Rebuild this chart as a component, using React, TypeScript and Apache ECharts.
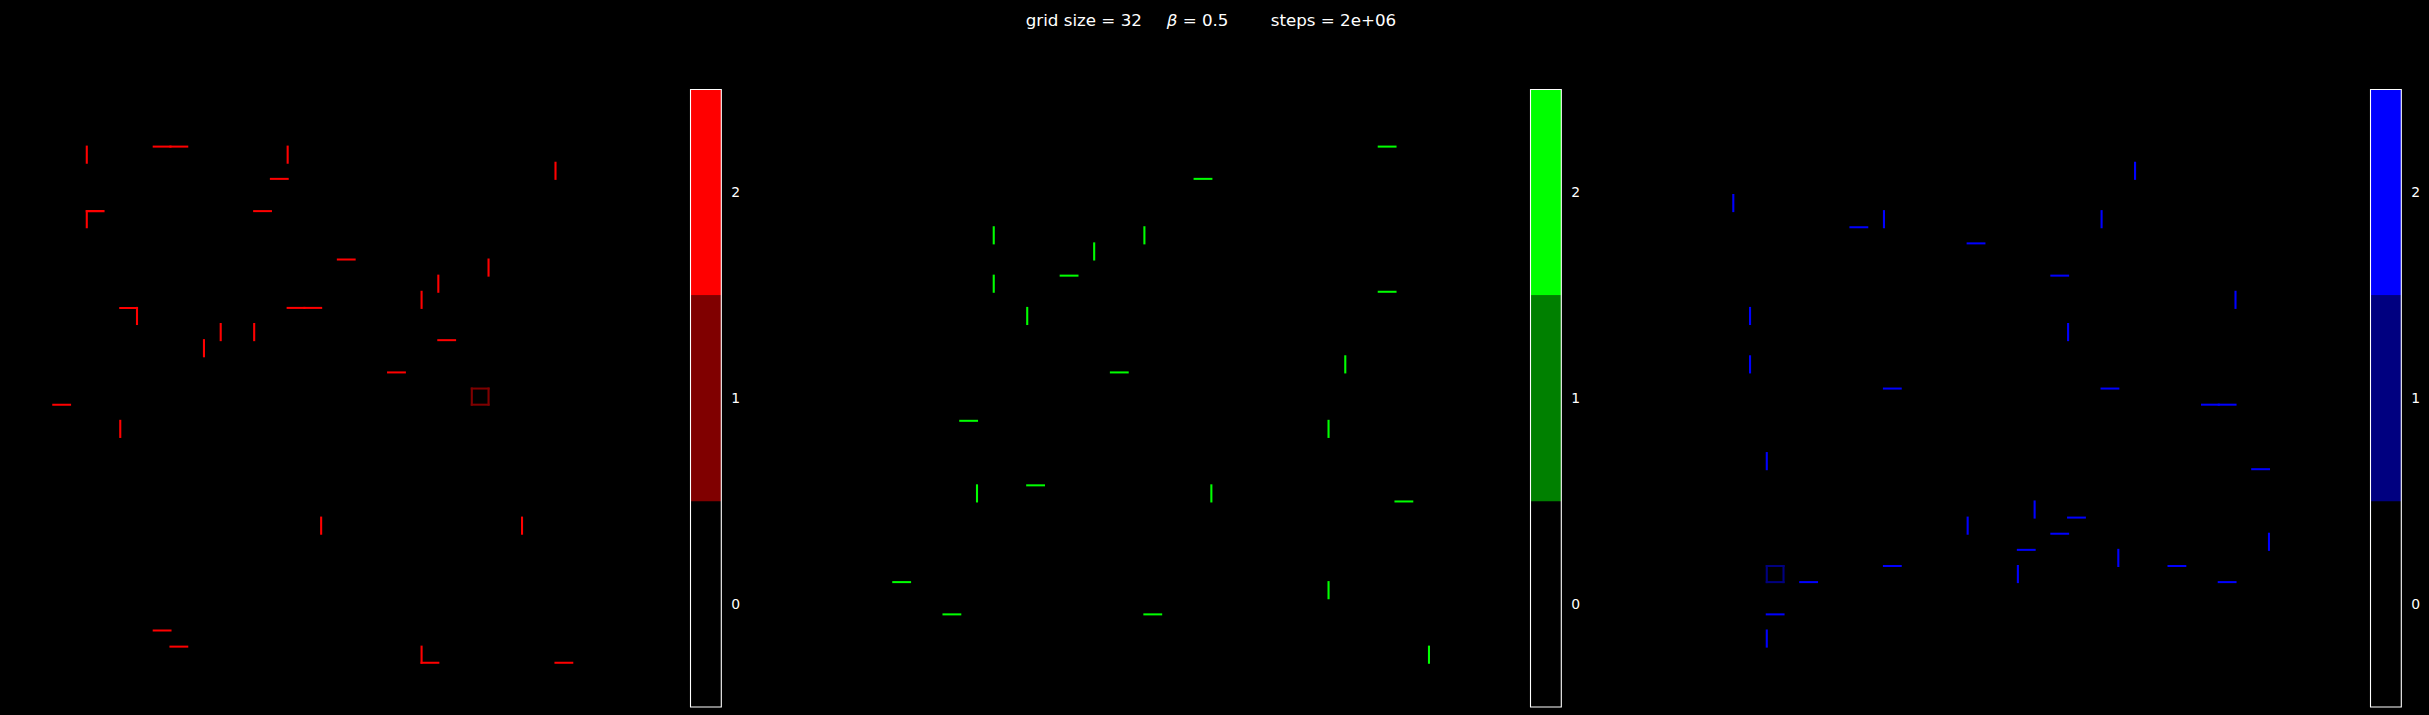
import React, { useEffect, useRef } from "react";
import * as echarts from "echarts";

// ---- data ----
const GRID_SIZE = 32;
const BETA = "0.5";
const STEPS = "2e+06";
const CB_TICKS = [0, 1, 2];

// edges: horizontal [col,row] -> (col,row)-(col+1,row); vertical [col,row] -> (col,row)-(col,row+1)
const redH = [[6, 0], [7, 0], [13, 2], [2, 4], [12, 4], [17, 7], [4, 10], [14, 10], [15, 10], [23, 12], [20, 14], [0, 16], [6, 30], [7, 31], [22, 32], [30, 32]];
const redV = [[2, 0], [14, 0], [30, 1], [2, 4], [26, 7], [23, 8], [22, 9], [5, 10], [10, 11], [12, 11], [9, 12], [4, 17], [16, 23], [28, 23], [22, 31]];
const redSq = [[25, 15]];

const greenH = [[29, 0], [18, 2], [10, 8], [29, 9], [13, 14], [4, 17], [8, 21], [30, 22], [0, 27], [3, 29], [15, 29]];
const greenV = [[6, 5], [15, 5], [12, 6], [6, 8], [8, 10], [27, 13], [26, 17], [5, 21], [19, 21], [26, 27], [32, 31]];
const greenSq: number[][] = [];

const blueH = [[7, 5], [14, 6], [19, 8], [9, 15], [22, 15], [28, 16], [29, 16], [31, 20], [20, 23], [19, 24], [17, 25], [9, 26], [26, 26], [4, 27], [29, 27], [2, 29]];
const blueV = [[24, 1], [0, 3], [9, 4], [22, 4], [30, 9], [1, 10], [20, 11], [1, 13], [2, 19], [18, 22], [14, 23], [32, 24], [23, 25], [17, 26], [2, 30]];
const blueSq = [[2, 26]];

const redColors = ["#000000", "#800000", "#ff0000"];
const greenColors = ["#000000", "#008000", "#00ff00"];
const blueColors = ["#000000", "#000080", "#0000ff"];

// ---- layout ----
const W = 2429;
const H = 715;
const PANEL_DX = 840;
const LAT_X0 = 53.3;
const CELL_W = 16.74;
const LAT_Y0 = 146.6;
const CELL_H = 16.13;
const CB_X = 690.5;
const CB_W = 30.8;
const CB_TOP = 89.5;
const CB_H = 617.5;
const FONT = "DejaVu Sans";

type Panel = { h: number[][]; v: number[][]; sq: number[][]; colors: string[] };
const panels: Panel[] = [
  { h: redH, v: redV, sq: redSq, colors: redColors },
  { h: greenH, v: greenV, sq: greenSq, colors: greenColors },
  { h: blueH, v: blueV, sq: blueSq, colors: blueColors },
];

function edgeData(p: Panel) {
  const d: number[][] = [];
  p.sq.forEach(([c, r]) => {
    d.push([0, c, r, 1], [0, c, r + 1, 1], [1, c, r, 1], [1, c + 1, r, 1]);
  });
  p.h.forEach(([c, r]) => d.push([0, c, r, 2]));
  p.v.forEach(([c, r]) => d.push([1, c, r, 2]));
  return d;
}

function buildOption() {
  const grid: any[] = [];
  const xAxis: any[] = [];
  const yAxis: any[] = [];
  const series: any[] = [];
  const e = 1 / 16;
  panels.forEach((p, i) => {
    const dx = i * PANEL_DX;
    grid.push({
      left: LAT_X0 + dx - CELL_W,
      top: LAT_Y0 - CELL_H,
      width: 34 * CELL_W,
      height: 34 * CELL_H,
      containLabel: false,
    });
    grid.push({ left: CB_X + dx, top: CB_TOP, width: CB_W, height: CB_H, containLabel: false });
    xAxis.push({ type: "value", gridIndex: 2 * i, min: -1, max: 33, show: false });
    yAxis.push({ type: "value", gridIndex: 2 * i, min: -1, max: 33, inverse: true, show: false });
    xAxis.push({ type: "value", gridIndex: 2 * i + 1, min: 0, max: 1, show: false });
    yAxis.push({
      type: "value",
      gridIndex: 2 * i + 1,
      min: -0.5,
      max: 2.5,
      position: "right",
      axisLine: { show: false },
      splitLine: { show: false },
      axisTick: {
        show: true,
        customValues: CB_TICKS,
        length: 5,
        inside: false,
        lineStyle: { color: "#ffffff", width: 1.1 },
      },
      axisLabel: {
        show: true,
        customValues: CB_TICKS,
        color: "#ffffff",
        fontFamily: FONT,
        fontSize: 13.9,
        margin: 10,
      },
    });
    const colors = p.colors;
    series.push({
      type: "custom",
      xAxisIndex: 2 * i,
      yAxisIndex: 2 * i,
      encode: { x: 1, y: 2 },
      data: edgeData(p),
      renderItem: (_params: any, api: any) => {
        const o = api.value(0);
        const c = api.value(1);
        const r = api.value(2);
        const v = api.value(3);
        const a = api.coord([c - e, r - e]);
        const b = o === 0 ? api.coord([c + 1 + e, r + e]) : api.coord([c + e, r + 1 + e]);
        return {
          type: "rect",
          shape: {
            x: Math.min(a[0], b[0]),
            y: Math.min(a[1], b[1]),
            width: Math.abs(b[0] - a[0]),
            height: Math.abs(b[1] - a[1]),
          },
          style: { fill: colors[v] },
        };
      },
    });
    const cbData = CB_TICKS.map((t) => [0, t]);
    cbData.push([1, 0]);
    series.push({
      type: "custom",
      xAxisIndex: 2 * i + 1,
      yAxisIndex: 2 * i + 1,
      encode: { x: 0, y: 1 },
      data: cbData,
      renderItem: (_params: any, api: any) => {
        const kind = api.value(0);
        if (kind === 0) {
          const v = api.value(1);
          const a = api.coord([0, v - 0.5]);
          const b = api.coord([1, v + 0.5]);
          return {
            type: "rect",
            shape: { x: a[0], y: b[1], width: b[0] - a[0], height: a[1] - b[1] },
            style: { fill: colors[v] },
          };
        }
        const a = api.coord([0, -0.5]);
        const b = api.coord([1, 2.5]);
        return {
          type: "rect",
          z2: 10,
          shape: { x: a[0], y: b[1], width: b[0] - a[0], height: a[1] - b[1] },
          style: { fill: "none", stroke: "#ffffff", lineWidth: 1.1 },
        };
      },
    });
  });

  const tStyle = { color: "#ffffff", fontFamily: FONT, fontSize: 16.7, fontWeight: "normal" as const };
  const title = [
    { text: `grid size = ${GRID_SIZE}`, left: 1025.7, top: 11, padding: 0, textStyle: tStyle },
    {
      text: `{i|β} = ${BETA}`,
      left: 1166.7,
      top: 11,
      padding: 0,
      textStyle: { ...tStyle, rich: { i: { ...tStyle, fontStyle: "italic" } } },
    },
    { text: `steps = ${STEPS}`, left: 1270.7, top: 11, padding: 0, textStyle: tStyle },
  ];

  return {
    animation: false,
    backgroundColor: "#000000",
    title,
    grid,
    xAxis,
    yAxis,
    series,
  };
}

export default function App() {
  const ref = useRef<HTMLDivElement>(null);
  useEffect(() => {
    if (!ref.current) return;
    const chart = echarts.init(ref.current, undefined, { renderer: "svg" });
    chart.setOption(buildOption() as any);
    return () => chart.dispose();
  }, []);
  return (
    <>
      <style>{"html,body{margin:0;padding:0;background:#000;}"}</style>
      <div ref={ref} style={{ width: W, height: H, background: "#000" }} />
    </>
  );
}
